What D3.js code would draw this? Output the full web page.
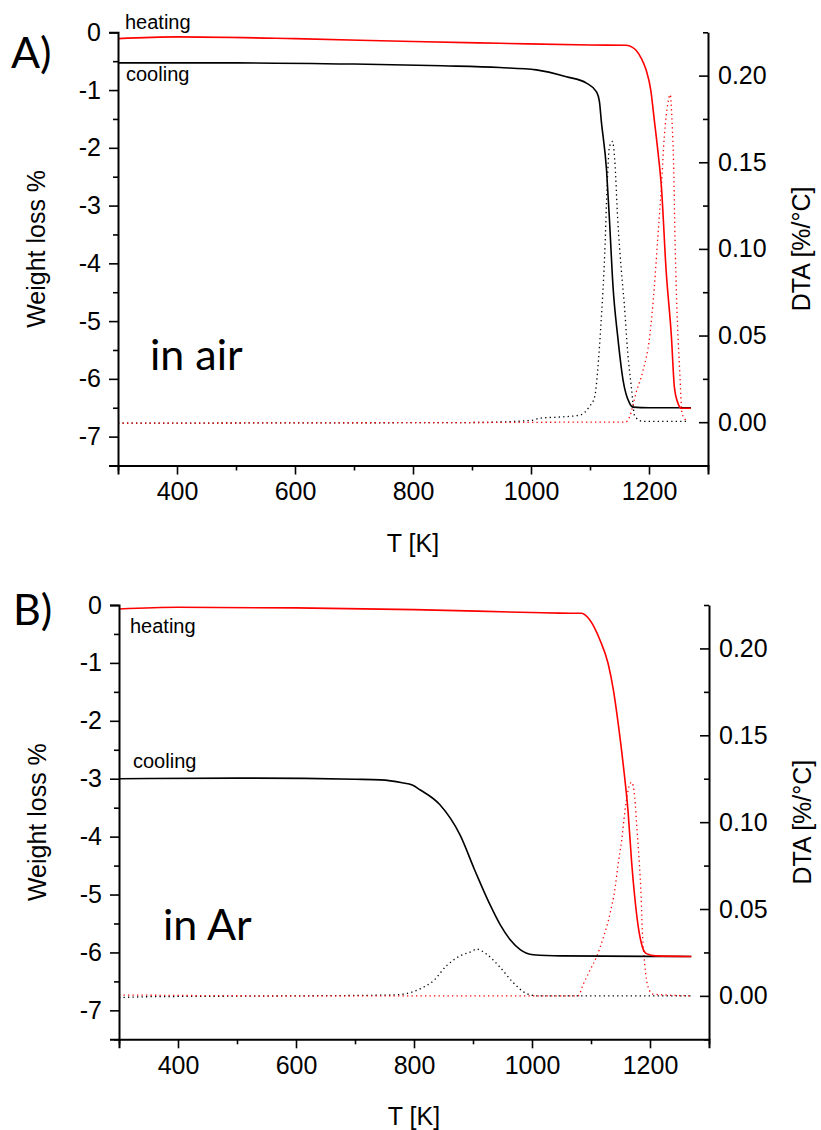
<!DOCTYPE html>
<html><head><meta charset="utf-8">
<script src="https://cdn.jsdelivr.net/npm/d3@7"></script>
<style>body{margin:0;background:#fff}svg{display:block}</style>
</head><body>
<script>
// ---------- data (T in K) ----------
const xTicks = [400, 600, 800, 1000, 1200];
const yTicks = [0, -1, -2, -3, -4, -5, -6, -7];
const dtaTicks = [0.00, 0.05, 0.10, 0.15, 0.20];

// Panel A: in air
const airHeating = [[300,-0.11],[400,-0.08],[600,-0.11],[800,-0.16],[947,-0.19],[1100,-0.22],[1161,-0.225],[1172,-0.26],[1178,-0.31],[1187,-0.45],[1195,-0.65],[1203,-1.0],[1209,-1.52],[1215,-2.05],[1221,-2.67],[1229,-4.12],[1238,-5.27],[1243,-6.14],[1249,-6.42],[1255,-6.51],[1271,-6.51]];
const airCooling = [[300,-0.53],[500,-0.53],[700,-0.55],[850,-0.58],[947,-0.61],[1009,-0.65],[1060,-0.77],[1094,-0.88],[1111,-1.03],[1116,-1.2],[1119,-1.52],[1128,-2.38],[1133,-3.25],[1139,-4.4],[1147,-5.27],[1156,-6.02],[1167,-6.42],[1173,-6.49],[1200,-6.5],[1271,-6.5]];
const airDtaCooling = [[300,-0.0006],[600,-0.0004],[900,-0.0002],[1000,0.001],[1015,0.0023],[1050,0.003],[1082,0.004],[1099,0.009],[1108,0.0148],[1113,0.030],[1119,0.059],[1125,0.0975],[1129,0.136],[1133,0.159],[1138,0.162],[1142,0.151],[1147,0.117],[1153,0.088],[1158,0.0686],[1164,0.040],[1170,0.0205],[1176,0.0032],[1190,0.0005],[1267,0.0005]];
const airDtaHeating = [[300,-0.0006],[600,-0.0004],[900,-0.0002],[1100,0.0],[1160,0.0],[1167,0.003],[1178,0.0169],[1190,0.030],[1201,0.049],[1209,0.078],[1215,0.107],[1221,0.136],[1226,0.165],[1232,0.184],[1236,0.189],[1239,0.174],[1242,0.145],[1244,0.107],[1247,0.0686],[1252,0.030],[1256,0.005],[1263,0.001]];

// Panel B: in Ar
const arHeating = [[300,-0.07],[400,-0.04],[600,-0.05],[800,-0.08],[1000,-0.13],[1047,-0.14],[1084,-0.143],[1098,-0.26],[1115,-0.60],[1129,-1.01],[1138,-1.47],[1146,-2.04],[1155,-2.79],[1163,-3.59],[1169,-4.46],[1174,-5.03],[1180,-5.55],[1187,-5.9],[1194,-6.02],[1210,-6.06],[1270,-6.07]];
const arCooling = [[300,-3.0],[500,-2.99],[700,-3.01],[743,-3.02],[780,-3.07],[797,-3.11],[810,-3.19],[844,-3.45],[878,-3.97],[903,-4.58],[929,-5.18],[946,-5.52],[963,-5.78],[980,-5.95],[1002,-6.04],[1050,-6.06],[1270,-6.07]];
const arDtaCooling = [[300,-0.001],[350,-0.0005],[600,0.0],[760,0.0005],[782,0.001],[810,0.004],[833,0.0087],[855,0.0173],[878,0.023],[900,0.026],[905,0.027],[923,0.024],[946,0.0164],[968,0.0077],[991,0.0013],[1010,0.0],[1270,0.0]];
const arDtaHeating = [[300,0.0005],[600,0.0],[1000,0.0],[1078,0.0],[1087,0.0068],[1098,0.0145],[1110,0.023],[1121,0.0337],[1132,0.047],[1141,0.0626],[1146,0.076],[1152,0.0896],[1157,0.105],[1163,0.1185],[1169,0.123],[1174,0.1146],[1178,0.0954],[1182,0.076],[1185,0.0568],[1187,0.0376],[1191,0.0183],[1197,0.0048],[1205,0.001],[1270,0.0]];

// ---------- drawing ----------
const W = 821, H = 1130;
const svg = d3.select("body").append("svg").attr("width", W).attr("height", H);
const tickFont = "'Liberation Sans', Arial, sans-serif";
const bigFont = "Lato, 'Open Sans', sans-serif";

function panel(o) {
  const x = d3.scaleLinear().domain([300, 1300]).range([o.x0, o.x1]);
  const y = d3.scaleLinear().domain([-7.5, 0]).range([o.y1, o.y0]);
  const yr = d3.scaleLinear().domain([-0.025, 0.225]).range([o.y1, o.y0]);
  const g = svg.append("g");

  const line = (sx, sy) => d3.line().x(d => sx(d[0])).y(d => sy(d[1])).curve(d3.curveMonotoneX);

  // DTA dotted
  g.append("path").datum(o.dtaC).attr("d", line(x, yr)).attr("fill","none")
    .attr("stroke","#000").attr("stroke-width",1.3).attr("stroke-dasharray","1.3,3.2");
  g.append("path").datum(o.dtaH).attr("d", line(x, yr)).attr("fill","none")
    .attr("stroke","#ff0000").attr("stroke-width",1.3).attr("stroke-dasharray","1.3,3.2");
  // weight loss solid
  g.append("path").datum(o.cool).attr("d", line(x, y)).attr("fill","none")
    .attr("stroke","#000").attr("stroke-width",1.6);
  g.append("path").datum(o.heat).attr("d", line(x, y)).attr("fill","none")
    .attr("stroke","#ff0000").attr("stroke-width",1.6);

  const styleAxis = sel => {
    sel.select(".domain").attr("stroke-width",2);
    sel.selectAll(".tick line").attr("stroke-width",1.6);
    sel.selectAll(".tick text").attr("font-family",tickFont).attr("font-size",25).attr("fill","#000");
  };
  const minorStyle = s => { s.select(".domain").remove(); s.selectAll(".tick line").attr("stroke-width",1.6); };
  const fmtInt = d => String(d);
  const fmt2 = d => d.toFixed(2);

  // bottom
  g.append("g").attr("transform",`translate(0,${o.y1})`)
    .call(d3.axisBottom(x).tickValues([300,500,700,900,1100,1300]).tickSize(5).tickFormat(""))
    .call(minorStyle);
  g.append("g").attr("transform",`translate(0,${o.y1})`)
    .call(d3.axisBottom(x).tickValues(xTicks).tickSizeOuter(0).tickSize(9).tickPadding(8).tickFormat(fmtInt))
    .call(styleAxis);
  // left
  g.append("g").attr("transform",`translate(${o.x0},0)`)
    .call(d3.axisLeft(y).tickValues([-0.5,-1.5,-2.5,-3.5,-4.5,-5.5,-6.5,-7.5]).tickSize(5).tickFormat(""))
    .call(minorStyle);
  g.append("g").attr("transform",`translate(${o.x0},0)`)
    .call(d3.axisLeft(y).tickValues(yTicks).tickSizeOuter(0).tickSize(9).tickPadding(8).tickFormat(fmtInt))
    .call(styleAxis);
  // right (ticks pointing inward)
  g.append("g").attr("transform",`translate(${o.x1},0)`)
    .call(d3.axisRight(yr).tickValues([-0.025,0.025,0.075,0.125,0.175,0.225]).tickSize(-5).tickFormat(""))
    .call(minorStyle);
  g.append("g").attr("transform",`translate(${o.x1},0)`)
    .call(d3.axisRight(yr).tickValues(dtaTicks).tickSizeOuter(0).tickSizeInner(-9).tickPadding(10).tickFormat(fmt2))
    .call(styleAxis);

  // axis titles
  const cy = (o.y0 + o.y1) / 2, cx = (o.x0 + o.x1) / 2;
  g.append("text").attr("transform",`translate(${o.x0-73},${cy}) rotate(-90)`).attr("text-anchor","middle")
    .attr("font-family",tickFont).attr("font-size",25).text("Weight loss %");
  g.append("text").attr("transform",`translate(${o.x1+102},${cy}) rotate(-90)`).attr("text-anchor","middle")
    .attr("font-family",tickFont).attr("font-size",25).text("DTA [%/°C]");
  g.append("text").attr("x",cx).attr("y",o.y1+86).attr("text-anchor","middle")
    .attr("font-family",tickFont).attr("font-size",25).text("T [K]");

  // annotations
  g.append("text").attr("x",o.letterX).attr("y",o.letterY).attr("font-family",bigFont).attr("font-size",43).text(o.letter);
  g.append("text").attr("x",o.envX).attr("y",o.envY).attr("font-family",bigFont).attr("font-size",43).text(o.env);
  g.append("text").attr("x",o.heatX).attr("y",o.heatY).attr("font-family",tickFont).attr("font-size",20).text("heating");
  g.append("text").attr("x",o.coolX).attr("y",o.coolY).attr("font-family",tickFont).attr("font-size",20).text("cooling");
}

panel({x0:118, x1:708, y0:32.3, y1:465.5, heat:airHeating, cool:airCooling, dtaH:airDtaHeating, dtaC:airDtaCooling,
  letter:"A)", letterX:11, letterY:68, env:"in air", envX:150, envY:370,
  heatX:125, heatY:29, coolX:126, coolY:81});
panel({x0:119, x1:709, y0:605, y1:1039.3, heat:arHeating, cool:arCooling, dtaH:arDtaHeating, dtaC:arDtaCooling,
  letter:"B)", letterX:13, letterY:625, env:"in Ar", envX:163, envY:940,
  heatX:130, heatY:633, coolX:133, coolY:768});
</script>
</body></html>
